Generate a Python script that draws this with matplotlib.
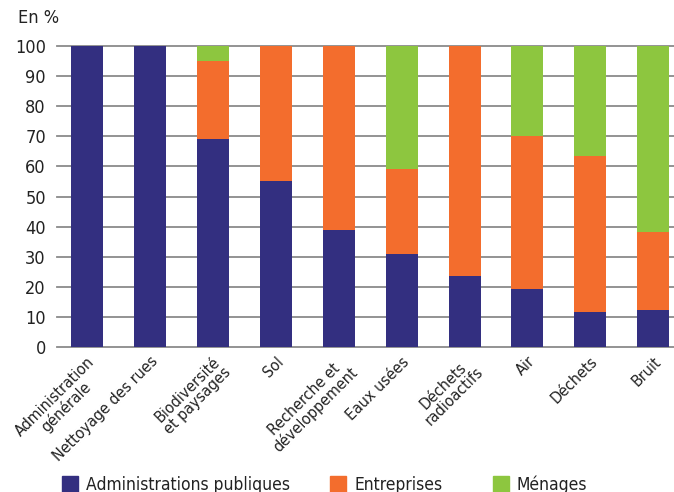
import matplotlib
matplotlib.use("Agg")
import matplotlib.pyplot as plt
from matplotlib.patches import Rectangle
import numpy as np

categories = ["Administration\ngénérale", "Nettoyage des rues", "Biodiversité\net paysages", "Sol",
              "Recherche et\ndéveloppement", "Eaux usées", "Déchets\nradioactifs", "Air", "Déchets", "Bruit"]
admin = [100, 100, 69, 55, 39, 31, 23.6, 19.3, 11.6, 12.3]
entreprises = [0, 0, 26, 45, 61, 28, 76.4, 50.8, 52.0, 25.9]
menages = [0, 0, 5, 0, 0, 41, 0, 29.9, 36.4, 61.8]
series_names = ["Administrations publiques", "Entreprises", "Ménages"]
colors = ["#332f80", "#f36d2d", "#8dc63f"]
yticks = [0, 10, 20, 30, 40, 50, 60, 70, 80, 90, 100]

plt.rcParams['font.family'] = ['DejaVu Sans']
plt.rcParams['font.stretch'] = 'condensed'

fig = plt.figure(figsize=(6.74, 4.92), dpi=100)
ax = fig.add_axes([57/674, 1-347/492, 1-57/674, (347-46)/492])

x = np.arange(len(categories))
w = 0.51
a = np.array(admin); e = np.array(entreprises); m = np.array(menages)
ax.bar(x, a, w, color=colors[0], zorder=3)
ax.bar(x, e, w, bottom=a, color=colors[1], zorder=3)
ax.bar(x, m, w, bottom=a+e, color=colors[2], zorder=3)

ax.set_ylim(0, 100)
ax.set_xlim(-0.48, 9.33)
ax.set_yticks(yticks)
ax.yaxis.grid(True, color="#8a8a8a", linewidth=1.3, zorder=0)
ax.set_axisbelow(True)
for s in ax.spines.values():
    s.set_visible(False)
ax.tick_params(axis='both', length=0, colors="#222222")
ax.tick_params(axis='y', pad=8, labelsize=13)
ax.set_xticks(x)
ax.set_xticklabels(categories, rotation=45, ha='right', rotation_mode='anchor',
                   multialignment='center', fontsize=11.5, linespacing=1.0)
ax.tick_params(axis='x', pad=5)
for gl in ax.get_ygridlines():
    gl.set_clip_on(False)

fig.text(18/674, 1-18/492, "En %", fontsize=13, va='center', ha='left', color="#222222")

leg_x = [62, 330, 493]
for i, (name, c) in enumerate(zip(series_names, colors)):
    fig.patches.append(Rectangle((leg_x[i]/674, 0), 16/674, 16/492,
                                 transform=fig.transFigure, color=c, figure=fig))
    fig.text((leg_x[i]+24)/674, 1-485/492, name, fontsize=12.5, va='center', ha='left', color="#222222")

fig.savefig("out.png", dpi=100)
